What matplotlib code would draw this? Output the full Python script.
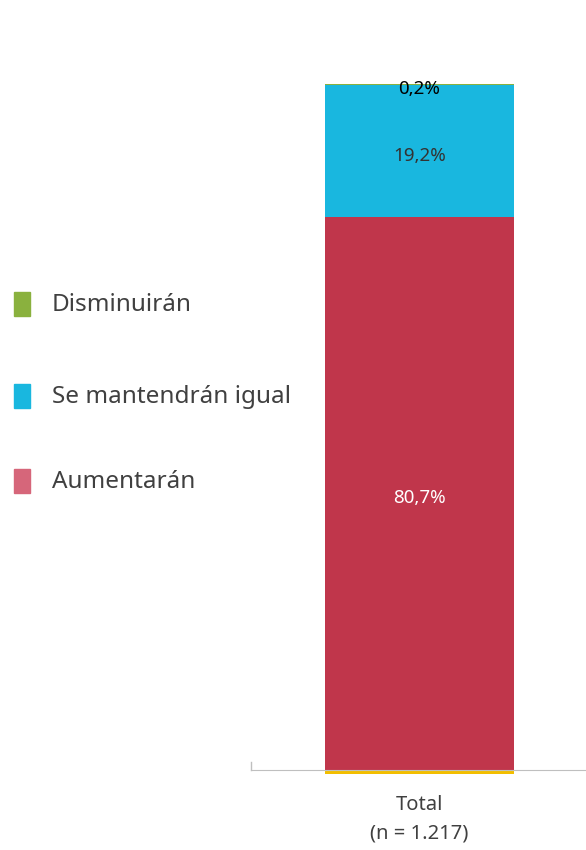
import matplotlib.pyplot as plt
from matplotlib.patches import Rectangle

plt.rcParams['font.family'] = ['Noto Sans', 'DejaVu Sans']

categories = ['Total\n(n = 1.217)']
series = ['Aumentarán', 'Se mantendrán igual', 'Disminuirán']
values = [[80.7], [19.2], [0.2]]
labels = ['80,7%', '19,2%', '0,2%']
colors = ['#C0364B', '#19B7DF', '#8AB13E']
legend_colors = ['#D6667A', '#19B7DF', '#8AB13E']
label_colors = ['white', '#333333', 'black']
base_strip = [0.55]  # thin yellow strip under the axis

W, H = 586, 850
fig = plt.figure(figsize=(W / 100, H / 100), dpi=100)
ax = fig.add_axes([251 / W, 1 - 770 / H, 335 / W, (770 - 84) / H])

x = range(len(categories))
bottom = [0.0]
for vals, c, lab, lc in zip(values, colors, labels, label_colors):
    bars = ax.bar(x, vals, bottom=bottom, width=0.564, color=c, linewidth=0)
    for b, v, bt in zip(bars, vals, bottom):
        ypos = bt + v / 2 - 0.7
        if v < 1:
            ypos = bt + v - 0.8
        ax.text(b.get_x() + b.get_width() / 2, ypos, lab, ha='center', va='center',
                color=lc, fontsize=13.5)
    bottom = [b + v for b, v in zip(bottom, vals)]

ax.bar(x, base_strip, bottom=[-s for s in base_strip], width=0.564,
       color='#F2BE00', linewidth=0, clip_on=False, zorder=1)

ax.set_xlim(-0.503, 0.497)
ax.set_ylim(0, 100.1)
for s in ['top', 'right', 'left']:
    ax.spines[s].set_visible(False)
ax.spines['bottom'].set_color('#BFBFBF')
ax.spines['bottom'].set_zorder(3)
ax.set_yticks([])
ax.set_xticks(list(x))
ax.set_xticklabels(categories, fontsize=14.5, color='#404040', linespacing=1.6)
ax.tick_params(axis='x', length=0, pad=18)
ax.plot([-0.503, -0.503], [0, 1.15], color='#BFBFBF', lw=1, clip_on=False)

# legend, top to bottom
leg_y = [304, 396, 481]
for name, c, yy in zip(series[::-1], legend_colors[::-1], leg_y):
    fig.patches.append(Rectangle((14 / W, 1 - (yy + 12) / H), 16 / W, 24 / H,
                                 transform=fig.transFigure, color=c))
    fig.text(52 / W, 1 - (yy + 1) / H, name, fontsize=17.5, color='#404040', va='center')

fig.savefig('out.png', dpi=100)
